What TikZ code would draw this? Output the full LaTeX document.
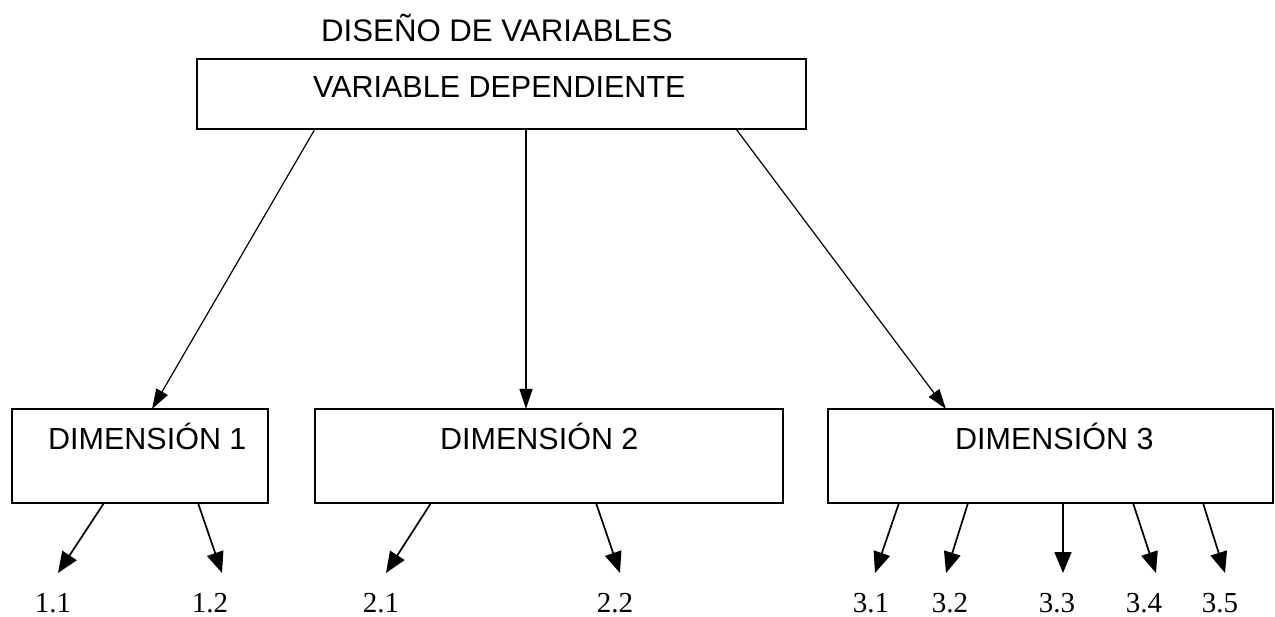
\documentclass[tikz,border=0pt]{standalone}
\usepackage{fontspec}
\setmainfont{Liberation Serif}
\newfontfamily\arialf{Liberation Sans}
\usetikzlibrary{arrows.meta}
\tikzset{
  box/.style={draw, line width=1.7pt, inner sep=0pt, outer sep=0pt, rectangle},
  sanslbl/.style={anchor=base west, inner sep=0pt, font=\arialf\fontsize{30.5}{36}\selectfont},
  numlbl/.style={anchor=base, inner sep=0pt, font=\fontsize{29}{34}\selectfont},
  toparr/.style={line width=1.2pt, -{Triangle[length=20pt,width=13pt]}},
  botarr/.style={line width=1.7pt, -{Triangle[length=21pt,width=17pt]}}
}
\begin{document}
\begin{tikzpicture}[x=1pt,y=-1pt]
\useasboundingbox (0,0) rectangle (1275,617);
% boxes
\node[box, minimum width=609pt, minimum height=70pt] (vd) at (501.5,94) {};
\node[box, minimum width=256pt, minimum height=94pt] (d1) at (140,456) {};
\node[box, minimum width=468pt, minimum height=94pt] (d2) at (549,456) {};
\node[box, minimum width=445pt, minimum height=94pt] (d3) at (1050.5,456) {};
% texts
\node[sanslbl, font=\arialf\fontsize{31.2}{36}\selectfont] (title) at (321,42) {DISEÑO DE VARIABLES};
\node[sanslbl] (vdt) at (313,98) {VARIABLE DEPENDIENTE};
\node[sanslbl] (d1t) at (48,450) {DIMENSIÓN 1};
\node[sanslbl] (d2t) at (440,450) {DIMENSIÓN 2};
\node[sanslbl] (d3t) at (955,450) {DIMENSIÓN 3};
% number labels
\node[numlbl] (l11) at (53,612) {1.1};
\node[numlbl] (l12) at (210,612) {1.2};
\node[numlbl] (l21) at (381,612) {2.1};
\node[numlbl] (l22) at (615,612) {2.2};
\node[numlbl] (l31) at (871,612) {3.1};
\node[numlbl] (l32) at (950,612) {3.2};
\node[numlbl] (l33) at (1057,612) {3.3};
\node[numlbl] (l34) at (1144,612) {3.4};
\node[numlbl] (l35) at (1220,612) {3.5};
% arrow tips above labels
\coordinate (t11) at (58,573);
\coordinate (t12) at (222,573);
\coordinate (t21) at (386,573);
\coordinate (t22) at (620,573);
\coordinate (t31) at (875,573);
\coordinate (t32) at (946,573);
\coordinate (t33) at (1063,573);
\coordinate (t34) at (1156,573);
\coordinate (t35) at (1225,573);
% top arrows
\draw[toparr] ([xshift=118pt]vd.south west) -- ([xshift=140pt]d1.north west);
\draw[toparr] ([xshift=329pt]vd.south west) -- ([xshift=211pt]d2.north west);
\draw[toparr] ([xshift=539pt]vd.south west) -- ([xshift=118pt]d3.north west);
% bottom arrows
\draw[botarr] ([xshift=92pt]d1.south west) -- (t11);
\draw[botarr] ([xshift=186pt]d1.south west) -- (t12);
\draw[botarr] ([xshift=116pt]d2.south west) -- (t21);
\draw[botarr] ([xshift=281pt]d2.south west) -- (t22);
\draw[botarr] ([xshift=71pt]d3.south west) -- (t31);
\draw[botarr] ([xshift=140pt]d3.south west) -- (t32);
\draw[botarr] ([xshift=235pt]d3.south west) -- (t33);
\draw[botarr] ([xshift=305pt]d3.south west) -- (t34);
\draw[botarr] ([xshift=375pt]d3.south west) -- (t35);
\end{tikzpicture}
\end{document}
